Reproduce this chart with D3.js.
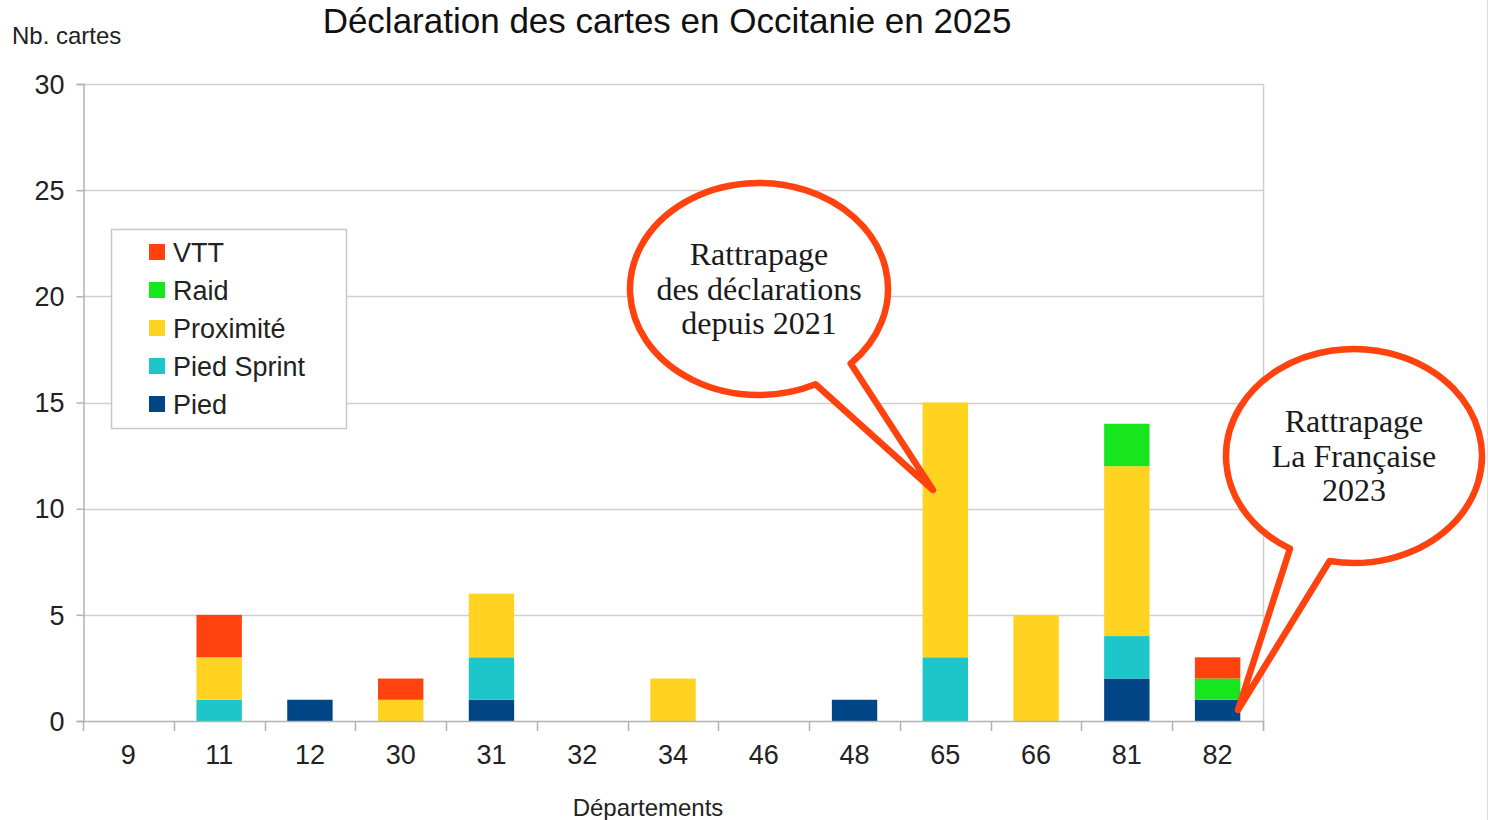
<!DOCTYPE html>
<html><head><meta charset="utf-8">
<script src="https://cdn.jsdelivr.net/npm/d3@7/dist/d3.min.js"></script>
<style>html,body{margin:0;padding:0;background:#fff;overflow:hidden}</style>
</head><body>
<svg id="c" width="1489" height="820"></svg>
<script>
const departements = ["9","11","12","30","31","32","34","46","48","65","66","81","82"];
const seriesNames = ["Pied","Pied Sprint","Proximité","Raid","VTT"];
const pied        = [0,0,1,0,1,0,0,0,1,0,0,2,1];
const piedSprint  = [0,1,0,0,2,0,0,0,0,3,0,2,0];
const proximite   = [0,2,0,1,3,0,2,0,0,12,5,8,0];
const raid        = [0,0,0,0,0,0,0,0,0,0,0,2,1];
const vtt         = [0,2,0,1,0,0,0,0,0,0,0,0,1];
const yTicks = [0,5,10,15,20,25,30];
const colors = {"Pied":"#004586","Pied Sprint":"#1cc6c9","Proximité":"#ffd320","Raid":"#17e61f","VTT":"#ff420e"};

const rows = departements.map((d,i)=>({dep:d,"Pied":pied[i],"Pied Sprint":piedSprint[i],"Proximité":proximite[i],"Raid":raid[i],"VTT":vtt[i]}));
const stacked = d3.stack().keys(seriesNames)(rows);

const svg = d3.select("#c");
const L=83, R=1263, T=84, B=721;
const x = d3.scaleBand().domain(departements).range([L,R]).paddingInner(0.5).paddingOuter(0.25);
const y = d3.scaleLinear().domain([0,30]).range([B,T]);
const grid="#cfcfcf", axisC="#b3b3b3";
const sans="'Liberation Sans', Arial, sans-serif", serif="'Liberation Serif','Times New Roman',serif";

// right edge line (screenshot border)
svg.append("line").attr("x1",1487.5).attr("x2",1487.5).attr("y1",0).attr("y2",820).attr("stroke","#dedede");

// gridlines
svg.append("g").selectAll("line").data(yTicks.filter(t=>t>0)).join("line")
  .attr("x1",L).attr("x2",R).attr("y1",d=>Math.round(y(d))+0.5).attr("y2",d=>Math.round(y(d))+0.5)
  .attr("stroke",grid).attr("stroke-width",1.5);
// right border
svg.append("line").attr("x1",R+0.5).attr("x2",R+0.5).attr("y1",T).attr("y2",B+10).attr("stroke",grid).attr("stroke-width",1.5);

// y axis
const yAxis = svg.append("g").attr("transform",`translate(${L+0.5},0)`)
  .call(d3.axisLeft(y).tickValues(yTicks).tickSize(7).tickPadding(12));
yAxis.select(".domain").attr("stroke",axisC).attr("stroke-width",1.5);
yAxis.selectAll(".tick line").attr("stroke",axisC).attr("stroke-width",1.5);
yAxis.selectAll(".tick text").attr("font-family",sans).attr("font-size",27).attr("fill","#222").attr("dy","0.34em");

// bars
svg.append("g").selectAll("g").data(stacked).join("g").attr("fill",d=>colors[d.key])
  .selectAll("rect").data(d=>d).join("rect")
  .attr("x",d=>x(d.data.dep)).attr("width",x.bandwidth())
  .attr("y",d=>y(d[1])).attr("height",d=>y(d[0])-y(d[1]));

// x axis
const step = x.step();
const xg = svg.append("g");
xg.append("line").attr("x1",L).attr("x2",R).attr("y1",B+0.5).attr("y2",B+0.5).attr("stroke",axisC).attr("stroke-width",1.5);
const bounds = d3.range(departements.length+1).map(i=>L+i*step);
xg.selectAll("line.tk").data(bounds).join("line").attr("class","tk")
  .attr("x1",d=>Math.round(d)+0.5).attr("x2",d=>Math.round(d)+0.5).attr("y1",B).attr("y2",B+10)
  .attr("stroke",axisC).attr("stroke-width",1.5);
xg.selectAll("text").data(departements).join("text")
  .attr("x",d=>x(d)+x.bandwidth()/2).attr("y",764).attr("text-anchor","middle")
  .attr("font-family",sans).attr("font-size",27).attr("fill","#222").text(d=>d);

// titles
svg.append("text").attr("x",667).attr("y",33).attr("text-anchor","middle").attr("font-family",sans)
  .attr("font-size",35).attr("fill","#111").text("Déclaration des cartes en Occitanie en 2025");
svg.append("text").attr("x",12).attr("y",44).attr("font-family",sans).attr("font-size",24).attr("fill","#222").text("Nb. cartes");
svg.append("text").attr("x",648).attr("y",816).attr("text-anchor","middle").attr("font-family",sans).attr("font-size",24).attr("fill","#222").text("Départements");

// legend
const lg = svg.append("g");
lg.append("rect").attr("x",111.5).attr("y",229.5).attr("width",235).attr("height",199).attr("fill","#fff").attr("stroke","#c8c8c8").attr("stroke-width",1.5);
const legOrder = ["VTT","Raid","Proximité","Pied Sprint","Pied"];
legOrder.forEach((k,i)=>{
  const cy = 252 + i*38;
  lg.append("rect").attr("x",149).attr("y",cy-8).attr("width",16).attr("height",16).attr("fill",colors[k]);
  lg.append("text").attr("x",173).attr("y",cy).attr("dy","0.36em").attr("font-family",sans).attr("font-size",27).attr("fill","#222").text(k);
});

// callouts
function callout(cx,cy,rx,ry,a1,a2,tip,lines,ty){
  const p=a=>[cx+rx*Math.cos(a*Math.PI/180), cy+ry*Math.sin(a*Math.PI/180)];
  const s=p(a1), e=p(a2);
  const d=`M${s[0]},${s[1]} L${tip[0]},${tip[1]} L${e[0]},${e[1]} A${rx},${ry} 0 1 1 ${s[0]},${s[1]} Z`;
  svg.append("path").attr("d",d).attr("fill","#fff").attr("stroke","#ff420e").attr("stroke-width",6.5).attr("stroke-linejoin","round");
  lines.forEach((t,i)=>svg.append("text").attr("x",cx).attr("y",ty+i*34.5).attr("text-anchor","middle")
    .attr("font-family",serif).attr("font-size",32).attr("fill","#1a1a1a").text(t));
}
callout(759,289,129,106,44.7,64,[933,490],["Rattrapage","des déclarations","depuis 2021"],265);
callout(1354,456,128,107,101,120,[1238,710],["Rattrapage","La Française","2023"],432);
</script>
</body></html>
